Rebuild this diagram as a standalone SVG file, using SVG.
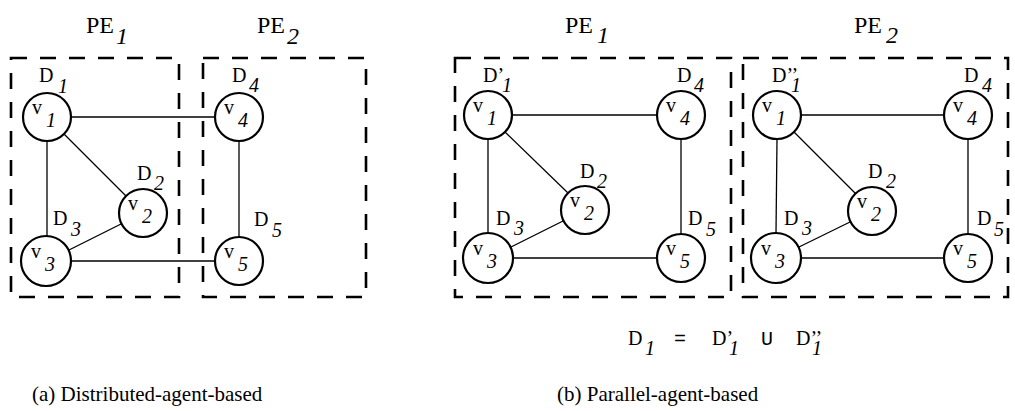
<svg xmlns="http://www.w3.org/2000/svg" width="1015" height="411" viewBox="0 0 1015 411">
<style>
.box{fill:none;stroke:#000;stroke-width:2.6;stroke-dasharray:16 13}
.c{fill:#fff;stroke:#000;stroke-width:2.2}
.e{stroke:#000;stroke-width:1.3;fill:none}
text{font-family:"Liberation Serif","Times New Roman",serif;font-size:20px;fill:#000}
.pe{font-size:24px}
.i{font-style:italic}
.m{font-family:"Liberation Mono","Courier New",monospace}
.cap{font-size:21px}
</style>
<rect width="1015" height="411" fill="#fff"/>
<g id="regions">
<rect class="box" x="11" y="58" width="168" height="239"/>
<rect class="box" x="203" y="58" width="163" height="239"/>
<rect class="box" x="455" y="58" width="276" height="239"/>
<rect class="box" x="743" y="58" width="265" height="239"/>
<text class="pe" x="86" y="33">PE<tspan class="i" x="116" y="44">1</tspan></text>
<text class="pe" x="257" y="33">PE<tspan class="i" x="287" y="44">2</tspan></text>
<text class="pe" x="565" y="33">PE<tspan class="i" x="597" y="43">1</tspan></text>
<text class="pe" x="854" y="33">PE<tspan class="i" x="886" y="43">2</tspan></text>
</g>
<g id="connectors">
<line class="e" x1="71" y1="117" x2="215" y2="117"/>
<line class="e" x1="47" y1="141" x2="47" y2="236"/>
<line class="e" x1="64" y1="134" x2="126" y2="196"/>
<line class="e" x1="69" y1="250" x2="121" y2="224"/>
<line class="e" x1="70" y1="261" x2="215" y2="261"/>
<line class="e" x1="239" y1="141" x2="239" y2="237"/>
<line class="e" x1="512" y1="115" x2="657" y2="115"/>
<line class="e" x1="488" y1="139" x2="488" y2="233"/>
<line class="e" x1="505" y1="132" x2="568" y2="193"/>
<line class="e" x1="511" y1="247" x2="563" y2="221"/>
<line class="e" x1="512" y1="258" x2="657" y2="258"/>
<line class="e" x1="681" y1="139" x2="681" y2="234"/>
<line class="e" x1="801" y1="115" x2="944" y2="115"/>
<line class="e" x1="777" y1="139" x2="776" y2="233"/>
<line class="e" x1="794" y1="132" x2="856" y2="194"/>
<line class="e" x1="799" y1="247" x2="850" y2="222"/>
<line class="e" x1="800" y1="258" x2="944" y2="258"/>
<line class="e" x1="968" y1="139" x2="968" y2="234"/>
</g>
<g id="a-v1"><circle class="c" cx="47" cy="117" r="24"/><text x="32" y="114">v<tspan class="i" x="46" y="127">1</tspan></text><text x="39" y="82">D<tspan class="i" x="58" y="93">1</tspan></text></g>
<g id="a-v2"><circle class="c" cx="143" cy="213" r="24"/><text x="128" y="210">v<tspan class="i" x="142" y="223">2</tspan></text><text x="137" y="180">D<tspan class="i" x="154" y="190">2</tspan></text></g>
<g id="a-v3"><circle class="c" cx="46" cy="261" r="25"/><text x="31" y="258">v<tspan class="i" x="45" y="271">3</tspan></text><text x="53" y="225">D<tspan class="i" x="71" y="236">3</tspan></text></g>
<g id="a-v4"><circle class="c" cx="239" cy="117" r="24"/><text x="224" y="114">v<tspan class="i" x="238" y="127">4</tspan></text><text x="232" y="82">D<tspan class="i" x="249" y="92">4</tspan></text></g>
<g id="a-v5"><circle class="c" cx="239" cy="261" r="24"/><text x="224" y="258">v<tspan class="i" x="238" y="271">5</tspan></text><text x="254" y="226">D<tspan class="i" x="272" y="237">5</tspan></text></g>
<g id="b1-v1"><circle class="c" cx="488" cy="115" r="24"/><text x="473" y="112">v<tspan class="i" x="487" y="125">1</tspan></text><text x="483" y="82">D’<tspan class="i" x="502" y="92">1</tspan></text></g>
<g id="b1-v2"><circle class="c" cx="585" cy="210" r="24"/><text x="570" y="207">v<tspan class="i" x="584" y="220">2</tspan></text><text x="580" y="178">D<tspan class="i" x="597" y="188">2</tspan></text></g>
<g id="b1-v3"><circle class="c" cx="488" cy="258" r="25"/><text x="473" y="255">v<tspan class="i" x="487" y="268">3</tspan></text><text x="496" y="225">D<tspan class="i" x="514" y="235">3</tspan></text></g>
<g id="b1-v4"><circle class="c" cx="681" cy="115" r="24"/><text x="666" y="112">v<tspan class="i" x="680" y="125">4</tspan></text><text x="677" y="82">D<tspan class="i" x="694" y="92">4</tspan></text></g>
<g id="b1-v5"><circle class="c" cx="681" cy="258" r="24"/><text x="666" y="255">v<tspan class="i" x="680" y="268">5</tspan></text><text x="688" y="225">D<tspan class="i" x="706" y="236">5</tspan></text></g>
<g id="b2-v1"><circle class="c" cx="777" cy="115" r="24"/><text x="762" y="112">v<tspan class="i" x="776" y="125">1</tspan></text><text x="772" y="82">D’’<tspan class="i" x="791" y="92">1</tspan></text></g>
<g id="b2-v2"><circle class="c" cx="872" cy="211" r="24"/><text x="857" y="208">v<tspan class="i" x="871" y="221">2</tspan></text><text x="868" y="178">D<tspan class="i" x="886" y="188">2</tspan></text></g>
<g id="b2-v3"><circle class="c" cx="776" cy="258" r="25"/><text x="761" y="255">v<tspan class="i" x="775" y="268">3</tspan></text><text x="784" y="225">D<tspan class="i" x="802" y="235">3</tspan></text></g>
<g id="b2-v4"><circle class="c" cx="968" cy="115" r="24"/><text x="953" y="112">v<tspan class="i" x="967" y="125">4</tspan></text><text x="964" y="82">D<tspan class="i" x="982" y="92">4</tspan></text></g>
<g id="b2-v5"><circle class="c" cx="968" cy="258" r="24"/><text x="953" y="255">v<tspan class="i" x="967" y="268">5</tspan></text><text x="977" y="225">D<tspan class="i" x="994" y="236">5</tspan></text></g>
<g id="formula">
<text x="628" y="345">D<tspan class="i" x="645" y="355">1</tspan></text>
<text class="m" x="674" y="345">=</text>
<text x="712" y="345">D’<tspan class="i" x="729" y="355">1</tspan></text>
<text class="m" x="761" y="345">U</text>
<text x="796" y="345">D’’<tspan class="i" x="812" y="355">1</tspan></text>
</g>
<g id="captions">
<text class="cap" x="32" y="401">(a) Distributed-agent-based</text>
<text class="cap" x="557" y="401">(b) Parallel-agent-based</text>
</g>
</svg>
